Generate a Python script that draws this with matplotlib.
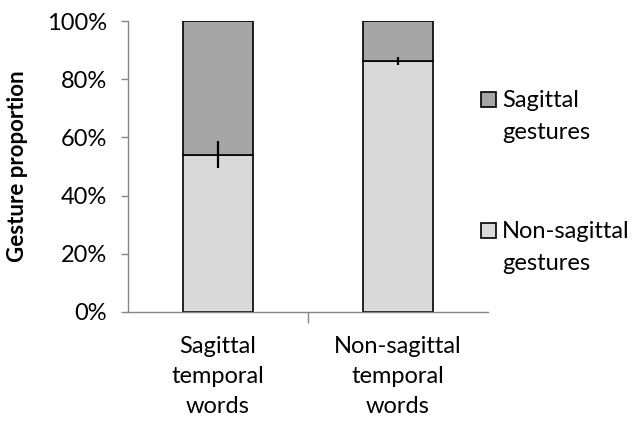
import matplotlib
matplotlib.use("Agg")
import matplotlib.pyplot as plt
from matplotlib.patches import Rectangle
from matplotlib.ticker import FuncFormatter

categories = ["Sagittal\ntemporal\nwords", "Non-sagittal\ntemporal\nwords"]
non_sagittal = [0.54, 0.863]
non_sagittal_err = [0.046, 0.014]
sagittal = [1 - v for v in non_sagittal]

legend_labels = [["Sagittal", "gestures"], ["Non-sagittal", "gestures"]]
legend_colors = ["#a6a6a6", "#d9d9d9"]

plt.rcParams["font.family"] = ["Lato", "DejaVu Sans"]

W, H = 634, 422
fig = plt.figure(figsize=(W / 100, H / 100), dpi=100)
ax = fig.add_axes([128 / W, 1 - 312 / H, 360 / W, 291 / H])

x = list(range(len(categories)))
width = 0.39
b1 = ax.bar(x, non_sagittal, width, color="#d9d9d9", edgecolor="black",
            linewidth=1.2, zorder=2)
b2 = ax.bar(x, sagittal, width, bottom=non_sagittal, color="#a6a6a6",
            edgecolor="black", linewidth=1.2, zorder=2)
ax.errorbar(x, non_sagittal, yerr=non_sagittal_err, fmt="none",
            ecolor="black", elinewidth=1.6, capsize=0, zorder=3)

ax.set_xlim(-0.5, 1.5)
ax.set_ylim(0, 1)
ax.set_yticks([0, 0.2, 0.4, 0.6, 0.8, 1.0])
ax.yaxis.set_major_formatter(FuncFormatter(lambda v, p: f"{v * 100:.0f}%"))
ax.set_xticks([0.5])
ax.set_xticklabels([""])
ax.set_xticks(x, minor=True)
ax.set_xticklabels(categories, minor=True, fontsize=17, linespacing=1.55)
ax.tick_params(axis="x", which="minor", length=0, pad=17)
ax.tick_params(axis="x", which="major", length=8, color="#868686", width=1)
ax.tick_params(axis="y", length=5, color="#868686", width=1, labelsize=17, pad=10)

for side in ["top", "right"]:
    ax.spines[side].set_visible(False)
for side in ["left", "bottom"]:
    ax.spines[side].set_color("#868686")
    ax.spines[side].set_linewidth(1)

ax.set_ylabel("Gesture proportion", fontsize=16, fontweight="bold", labelpad=14)

# legend drawn by hand: square next to the first line of each two-line label
for (first, second), color, top in zip(legend_labels, legend_colors, [92, 223]):
    fig.patches.append(Rectangle((481 / W, 1 - (top + 15) / H), 15 / W, 15 / H,
                                 transform=fig.transFigure, facecolor=color,
                                 edgecolor="black", linewidth=1.2))
    fig.text(502 / W, 1 - (top + 15) / H, first, fontsize=17, va="baseline")
    fig.text(502 / W, 1 - (top + 47) / H, second, fontsize=17, va="baseline")

fig.savefig("out.png", dpi=100)
